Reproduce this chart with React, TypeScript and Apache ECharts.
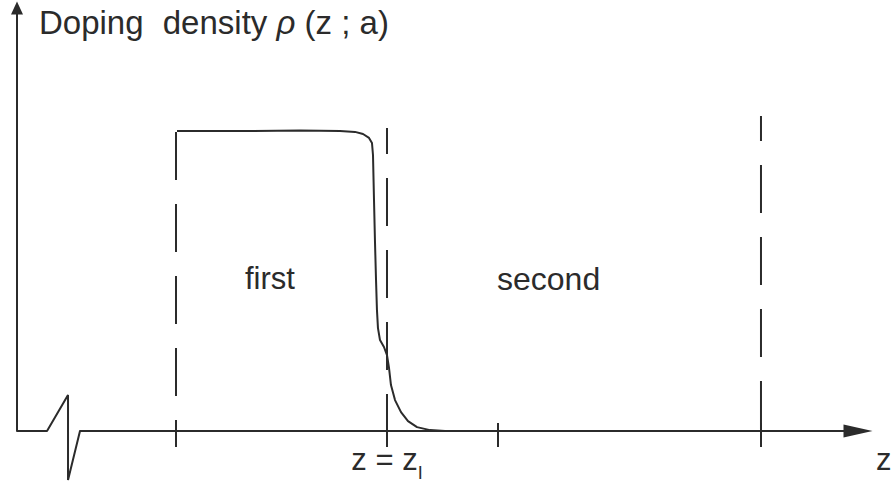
import React, { useEffect, useRef } from "react";
import * as echarts from "echarts";

// ---- data (schematic units: z along the axis, rho normalised to plateau = 1) ----
const Z_TICKS = [12.34, 39.46, 53.73, 87.53];
const Z_I = 39.46;
const BOUNDARY_Z = [12.34, 39.46, 87.53];
const BOUNDARY_TOP = [0.997, 1.01, 1.05];
const PROFILE_Z = [12.47, 21.85, 28.28, 33.42, 35.35, 36.38, 37.15, 37.53, 37.66, 37.79, 37.92, 38.05, 38.17, 38.3, 38.56, 39.07, 39.46, 39.72, 39.97, 40.49, 41.26, 42.16, 43.32, 44.99, 46.92];
const PROFILE_RHO = [1.0, 1.0, 1.002, 1.0, 0.997, 0.99, 0.977, 0.96, 0.92, 0.77, 0.627, 0.503, 0.403, 0.343, 0.303, 0.28, 0.253, 0.21, 0.153, 0.103, 0.063, 0.033, 0.013, 0.003, 0];
// axis-break glyph on the z axis, left of z = 0
const BREAK_Z = [-8.1, -4.24, -1.54, -1.54, 0];
const BREAK_RHO = [0, 0, 0.12, -0.163, 0];
const REGION_LABELS = ["first", "second"];
const Y_TITLE = "Doping {d|density} {i|ρ} (z ; a)";
const X_NAME = "z";

const INK = "#2b2b2b";
const FONT = "'Liberation Sans', Arial, sans-serif";

export default function App() {
  const ref = useRef<HTMLDivElement>(null);
  useEffect(() => {
    document.body.style.margin = "0";
    const chart = echarts.init(ref.current!, null, { renderer: "svg" });
    const line = { color: INK, width: 2 };
    const dashOffsets = [0, 22, 23];
    const hiddenAxis = {
      show: false,
      axisLine: { show: false },
      axisTick: { show: false },
      axisLabel: { show: false },
      splitLine: { show: false },
    };
    const option: any = {
      animation: false,
      backgroundColor: "#ffffff",
      textStyle: { fontFamily: FONT, color: INK },
      grid: [
        { left: 80, right: 33, top: 8, bottom: 52, containLabel: false, outerBoundsMode: "none" },
        { left: 17, width: 63, top: 8, bottom: 0, containLabel: false, outerBoundsMode: "none" },
      ],
      xAxis: [
        {
          type: "value",
          gridIndex: 0,
          min: 0,
          max: 100,
          position: "bottom",
          axisLine: { show: true, onZero: false, symbol: ["none", "triangle"], symbolSize: [13, 29], lineStyle: line },
          axisTick: { show: true, inside: false, length: 16, customValues: Z_TICKS, lineStyle: line },
          axisLabel: {
            show: true,
            customValues: [Z_I],
            formatter: () => "{m|z = z}{sub|I}",
            margin: 13,
            rich: {
              m: { fontSize: 31, fontFamily: FONT, color: INK, lineHeight: 31 },
              sub: { fontSize: 18, fontFamily: FONT, color: INK, lineHeight: 18, padding: [27, 0, 0, 0] },
            },
          },
          splitLine: { show: false },
          name: X_NAME,
          nameLocation: "end",
          nameGap: 18,
          nameMoveOverlap: false,
          nameTextStyle: { fontSize: 31, fontFamily: FONT, color: INK, align: "left", verticalAlign: "top", padding: [13, 0, 0, 0] },
        },
        {
          type: "value",
          gridIndex: 0,
          min: 0,
          max: 100,
          position: "bottom",
          axisLine: { show: false, onZero: false },
          axisTick: { show: true, inside: true, length: 8, customValues: Z_TICKS, lineStyle: line },
          axisLabel: { show: false },
          splitLine: { show: false },
        },
        { type: "value", gridIndex: 1, min: -8.1, max: 0, ...hiddenAxis },
      ],
      yAxis: [
        {
          type: "value",
          gridIndex: 0,
          min: 0,
          max: 1.41,
          position: "left",
          offset: 63,
          axisLine: { show: true, onZero: false, symbol: ["none", "triangle"], symbolSize: [12, 13], lineStyle: line },
          axisTick: { show: false },
          axisLabel: { show: false },
          splitLine: { show: false },
          name: Y_TITLE,
          nameLocation: "end",
          nameGap: -14,
          nameMoveOverlap: false,
          nameTextStyle: {
            fontSize: 33,
            fontFamily: FONT,
            color: INK,
            align: "left",
            verticalAlign: "middle",
            padding: [0, 0, 0, 22],
            rich: {
              d: { fontSize: 33, fontFamily: FONT, color: INK, padding: [0, 0, 0, 10] },
              i: { fontSize: 33, fontFamily: FONT, color: INK, fontStyle: "italic" },
            },
          },
        },
        { type: "value", gridIndex: 1, min: -0.173, max: 1.41, ...hiddenAxis },
      ],
      series: [
        {
          type: "line",
          xAxisIndex: 0,
          yAxisIndex: 0,
          data: PROFILE_Z.map((z, i) => [z, PROFILE_RHO[i]]),
          symbol: "none",
          lineStyle: line,
          silent: true,
        },
        {
          type: "line",
          xAxisIndex: 2,
          yAxisIndex: 1,
          data: BREAK_Z.map((z, i) => [z, BREAK_RHO[i]]),
          symbol: "none",
          clip: false,
          lineStyle: line,
          silent: true,
        },
        ...BOUNDARY_Z.map((z, i) => ({
          type: "line",
          xAxisIndex: 0,
          yAxisIndex: 0,
          data: [
            [z, BOUNDARY_TOP[i]],
            [z, 0],
          ],
          symbol: "none",
          lineStyle: { color: INK, width: 2, type: [48, 24], dashOffset: dashOffsets[i] },
          silent: true,
        })),
      ],
      graphic: [
        { type: "text", left: 245, top: 263, style: { text: REGION_LABELS[0], fontSize: 31, fontFamily: FONT, fill: INK } },
        { type: "text", left: 497, top: 263, style: { text: REGION_LABELS[1], fontSize: 32, fontFamily: FONT, fill: INK } },
      ],
    };
    chart.setOption(option);
    return () => chart.dispose();
  }, []);
  return <div ref={ref} style={{ width: 891, height: 483 }} />;
}
